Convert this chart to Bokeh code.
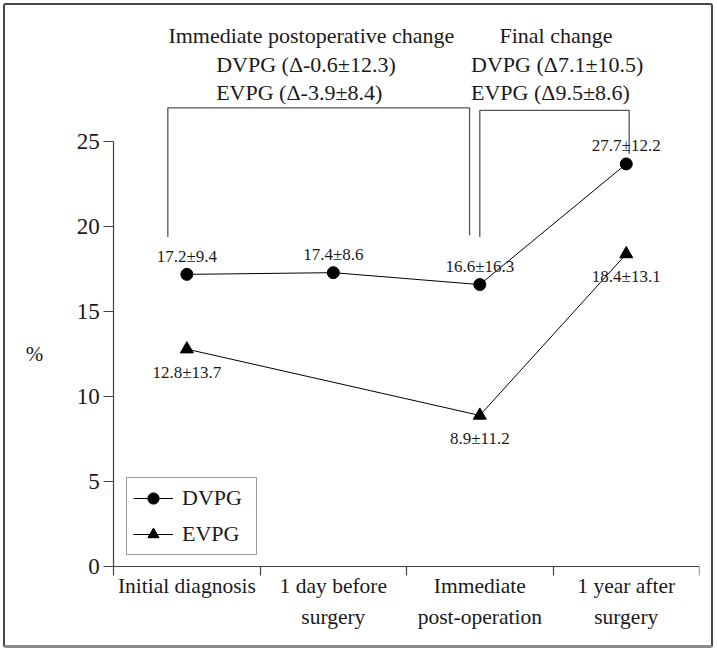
from bokeh.plotting import figure
from bokeh.models import Range1d, FixedTicker, Legend, LegendItem, ColumnDataSource
from bokeh.core.properties import value
from bokeh.embed import file_html
from bokeh.resources import INLINE

# ---------------- data ----------------
categories = ["Initial diagnosis", "1 day before\nsurgery",
              "Immediate\npost-operation", "1 year after\nsurgery"]
dvpg_index = [0, 1, 2, 3]
dvpg_values = [17.2, 17.3, 16.6, 23.7]
dvpg_labels = ["17.2\u00b19.4", "17.4\u00b18.6", "16.6\u00b116.3", "27.7\u00b112.2"]
evpg_index = [0, 2, 3]
evpg_values = [12.8, 8.9, 18.4]
evpg_labels = ["12.8\u00b113.7", "8.9\u00b111.2", "18.4\u00b113.1"]
y_ticks = [0, 5, 10, 15, 20, 25]
y_label = "%"

immediate_title = "Immediate postoperative change"
immediate_lines = ["DVPG (\u0394-0.6\u00b112.3)", "EVPG (\u0394-3.9\u00b18.4)"]
final_title = "Final change"
final_lines = ["DVPG (\u03947.1\u00b110.5)", "EVPG (\u03949.5\u00b18.6)"]

# bracket outlines (data units)
bracket_immediate_x = [0.37, 0.37, 2.43, 2.43]
bracket_immediate_y = [19.4, 27.0, 27.0, 19.5]
bracket_final_x = [2.50, 2.50, 3.52, 3.52]
bracket_final_y = [19.4, 26.85, 26.85, 24.3]

FONT_NAME = "Liberation Serif"
FONT = value(FONT_NAME)
INK = "#1a1a1a"

def cx(i):
    return i + 0.5

n = len(categories)
p = figure(width=710, height=645, x_range=Range1d(-0.67, n), y_range=Range1d(-4.64, 32.61),
           output_backend="svg", toolbar_location=None,
           min_border_left=10, min_border_right=16, min_border_top=7, min_border_bottom=5)
p.styles = {"border": "2px solid #444444", "border-bottom": "3px solid #8a8a8a",
            "border-radius": "3px", "margin-left": "3px", "margin-top": "3px"}
p.grid.visible = False
p.outline_line_color = None
p.background_fill_color = "white"

# axes (drawn at the data origin)
p.xaxis.fixed_location = 0
p.xaxis.ticker = FixedTicker(ticks=[cx(i) for i in range(n)], minor_ticks=list(range(n + 1)))
p.xaxis.bounds = (0, n)
p.xaxis.major_label_overrides = {cx(i): c for i, c in enumerate(categories)}
p.xaxis.major_tick_out = 0
p.xaxis.major_tick_in = 0
p.xaxis.minor_tick_out = 9
p.xaxis.minor_tick_in = 0
p.xaxis.major_label_standoff = -2
p.xaxis.major_label_text_font = FONT_NAME
p.xaxis.major_label_text_font_size = "21.5px"
p.xaxis.major_label_text_color = INK
p.xaxis.major_label_text_line_height = 1.3

p.yaxis.fixed_location = 0
p.yaxis.ticker = FixedTicker(ticks=y_ticks, minor_ticks=[])
p.yaxis.bounds = (y_ticks[0], y_ticks[-1])
p.yaxis.major_tick_out = 10
p.yaxis.major_tick_in = 0
p.yaxis.major_label_standoff = 4
p.yaxis.major_label_text_font = FONT_NAME
p.yaxis.major_label_text_font_size = "23px"
p.yaxis.major_label_text_color = INK

for ax in (p.xaxis, p.yaxis):
    ax.axis_line_color = "#444444"
    ax.axis_line_width = 1.2
    ax.major_tick_line_color = "#444444"
    ax.minor_tick_line_color = "#444444"
    ax.major_tick_line_width = 1.2
    ax.minor_tick_line_width = 1.2

# y-axis title, centred on the 0-25 span of the axis
p.text(x=[-0.54], y=[(y_ticks[0] + y_ticks[-1]) / 2], text=[y_label], text_font=FONT,
       text_font_size="21px", text_color=INK, text_align="center", text_baseline="middle")

# brackets
p.line(bracket_immediate_x, bracket_immediate_y, line_color="#555555", line_width=1.3)
p.line(bracket_final_x, bracket_final_y, line_color="#555555", line_width=1.3)

# header texts
HS = "22px"
p.text(x=[1.35], y=[31.27], text=[immediate_title], text_font=FONT, text_font_size=HS,
       text_align="center", text_baseline="middle", text_color=INK)
p.text(x=[0.70, 0.70], y=[29.56, 27.9], text=immediate_lines, text_font=FONT,
       text_font_size=HS, text_align="left", text_baseline="middle", text_color=INK)
p.text(x=[3.02], y=[31.27], text=[final_title], text_font=FONT, text_font_size=HS,
       text_align="center", text_baseline="middle", text_color=INK)
p.text(x=[2.44, 2.44], y=[29.56, 27.9], text=final_lines, text_font=FONT,
       text_font_size=HS, text_align="left", text_baseline="middle", text_color=INK)

# series
dsrc = ColumnDataSource(dict(x=[cx(i) for i in dvpg_index], y=dvpg_values, lab=dvpg_labels))
esrc = ColumnDataSource(dict(x=[cx(i) for i in evpg_index], y=evpg_values, lab=evpg_labels))

dl = p.line("x", "y", source=dsrc, line_color="black", line_width=1)
dm = p.scatter("x", "y", source=dsrc, marker="circle", size=12, fill_color="black", line_color="black")
el = p.line("x", "y", source=esrc, line_color="black", line_width=1)
em = p.scatter("x", "y", source=esrc, marker="triangle", size=13, fill_color="black", line_color="black")

p.text("x", "y", text="lab", source=dsrc, y_offset=-18, text_font=FONT, text_font_size="17px",
       text_align="center", text_baseline="middle", text_color=INK)
p.text("x", "y", text="lab", source=esrc, y_offset=23, text_font=FONT, text_font_size="17px",
       text_align="center", text_baseline="middle", text_color=INK)

# legend: placed relative to the frame's bottom-left corner (screen px)
legend = Legend(items=[LegendItem(label="DVPG", renderers=[dl, dm]),
                       LegendItem(label="EVPG", renderers=[el, em])],
                location=(111, 90))
legend.label_text_font = FONT_NAME
legend.label_text_font_size = "22px"
legend.label_text_color = INK
legend.glyph_width = 40
legend.glyph_height = 28
legend.label_height = 28
legend.label_width = 68
legend.label_standoff = 9
legend.spacing = 8
legend.padding = 6
legend.margin = 0
legend.border_line_color = "#333333"
legend.border_line_width = 1
legend.background_fill_alpha = 1
p.add_layout(legend)

open("out.html", "w").write(file_html(p, INLINE))
